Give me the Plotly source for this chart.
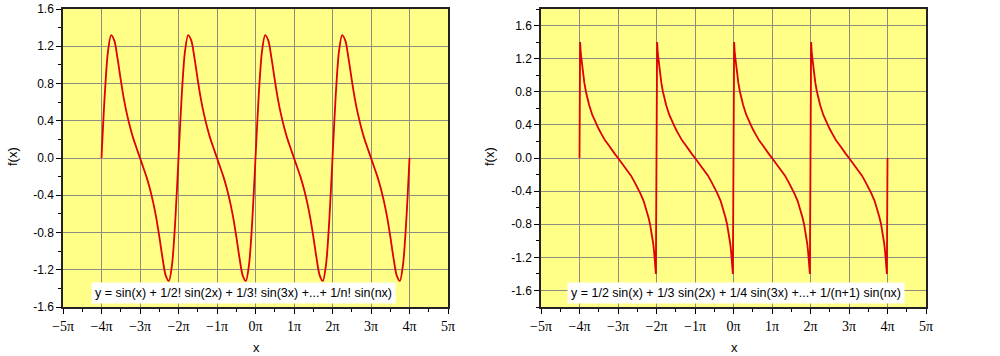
import numpy as np
import plotly.graph_objects as go

# ---------------- data (x in units of pi) ----------------
# Left: y = sum 1/n! sin(nx), sampled every pi/12 from -4pi to 4pi
left_x = np.linspace(-4, 4, 97)
left_y = [
    0.00, 0.67, 1.14, 1.32, 1.26, 1.07, 0.84, 0.63, 0.46, 0.32, 0.20, 0.10,
    0.00, -0.10, -0.20, -0.32, -0.46, -0.63, -0.84, -1.07, -1.26, -1.32, -1.14, -0.67,
    0.00, 0.67, 1.14, 1.32, 1.26, 1.07, 0.84, 0.63, 0.46, 0.32, 0.20, 0.10,
    0.00, -0.10, -0.20, -0.32, -0.46, -0.63, -0.84, -1.07, -1.26, -1.32, -1.14, -0.67,
    0.00, 0.67, 1.14, 1.32, 1.26, 1.07, 0.84, 0.63, 0.46, 0.32, 0.20, 0.10,
    0.00, -0.10, -0.20, -0.32, -0.46, -0.63, -0.84, -1.07, -1.26, -1.32, -1.14, -0.67,
    0.00, 0.67, 1.14, 1.32, 1.26, 1.07, 0.84, 0.63, 0.46, 0.32, 0.20, 0.10,
    0.00, -0.10, -0.20, -0.32, -0.46, -0.63, -0.84, -1.07, -1.26, -1.32, -1.14, -0.67,
    0.00,
]

# Right: y = sum 1/(n+1) sin(nx)
right_x = [
    -4.000, -3.984, -3.970, -3.958, -3.9375, -3.917, -3.875, -3.833, -3.792, -3.750,
    -3.667, -3.583, -3.500, -3.417, -3.333, -3.250, -3.167, -3.083, -3.000,
    -2.917, -2.833, -2.750, -2.667, -2.583, -2.500, -2.417, -2.333, -2.250,
    -2.208, -2.167, -2.125, -2.083, -2.0625, -2.042, -2.030, -2.016,
    -2.000, -1.984, -1.970, -1.958, -1.9375, -1.917, -1.875, -1.833, -1.792, -1.750,
    -1.667, -1.583, -1.500, -1.417, -1.333, -1.250, -1.167, -1.083, -1.000,
    -0.917, -0.833, -0.750, -0.667, -0.583, -0.500, -0.417, -0.333, -0.250,
    -0.208, -0.167, -0.125, -0.083, -0.0625, -0.042, -0.030, -0.016,
    0.000, 0.016, 0.030, 0.042, 0.0625, 0.083, 0.125, 0.167, 0.208, 0.250,
    0.333, 0.417, 0.500, 0.583, 0.667, 0.750, 0.833, 0.917, 1.000,
    1.083, 1.167, 1.250, 1.333, 1.417, 1.500, 1.583, 1.667, 1.750,
    1.792, 1.833, 1.875, 1.917, 1.9375, 1.958, 1.970, 1.984,
    2.000, 2.016, 2.030, 2.042, 2.0625, 2.083, 2.125, 2.167, 2.208, 2.250,
    2.333, 2.417, 2.500, 2.583, 2.667, 2.750, 2.833, 2.917, 3.000,
    3.083, 3.167, 3.250, 3.333, 3.417, 3.500, 3.583, 3.667, 3.750,
    3.792, 3.833, 3.875, 3.917, 3.9375, 3.958, 3.970, 3.984,
    4.000,
]
right_y = [
    0.00, 1.40, 1.29, 1.23, 1.13, 1.04, 0.91, 0.80, 0.72, 0.64,
    0.52, 0.43, 0.35, 0.28, 0.21, 0.16, 0.10, 0.05, 0.00,
    -0.05, -0.10, -0.16, -0.21, -0.28, -0.35, -0.43, -0.52, -0.64,
    -0.72, -0.80, -0.91, -1.04, -1.13, -1.23, -1.29, -1.40,
    0.00, 1.40, 1.29, 1.23, 1.13, 1.04, 0.91, 0.80, 0.72, 0.64,
    0.52, 0.43, 0.35, 0.28, 0.21, 0.16, 0.10, 0.05, 0.00,
    -0.05, -0.10, -0.16, -0.21, -0.28, -0.35, -0.43, -0.52, -0.64,
    -0.72, -0.80, -0.91, -1.04, -1.13, -1.23, -1.29, -1.40,
    0.00, 1.40, 1.29, 1.23, 1.13, 1.04, 0.91, 0.80, 0.72, 0.64,
    0.52, 0.43, 0.35, 0.28, 0.21, 0.16, 0.10, 0.05, 0.00,
    -0.05, -0.10, -0.16, -0.21, -0.28, -0.35, -0.43, -0.52, -0.64,
    -0.72, -0.80, -0.91, -1.04, -1.13, -1.23, -1.29, -1.40,
    0.00, 1.40, 1.29, 1.23, 1.13, 1.04, 0.91, 0.80, 0.72, 0.64,
    0.52, 0.43, 0.35, 0.28, 0.21, 0.16, 0.10, 0.05, 0.00,
    -0.05, -0.10, -0.16, -0.21, -0.28, -0.35, -0.43, -0.52, -0.64,
    -0.72, -0.80, -0.91, -1.04, -1.13, -1.23, -1.29, -1.40,
    0.00,
]

x_tickvals = [-5, -4, -3, -2, -1, 0, 1, 2, 3, 4, 5]
x_ticktext = ["\u22125\u03c0", "\u22124\u03c0", "\u22123\u03c0", "\u22122\u03c0", "\u22121\u03c0",
              "0\u03c0", "1\u03c0", "2\u03c0", "3\u03c0", "4\u03c0", "5\u03c0"]
left_yticks = [-1.6, -1.2, -0.8, -0.4, 0.0, 0.4, 0.8, 1.2, 1.6]
right_yticks = [-1.6, -1.2, -0.8, -0.4, 0.0, 0.4, 0.8, 1.2, 1.6]

left_label = "y = sin(x) + 1/2! sin(2x) + 1/3! sin(3x) +...+ 1/n! sin(nx)"
right_label = "y = 1/2 sin(x) + 1/3 sin(2x) + 1/4 sin(3x) +...+ 1/(n+1) sin(nx)"

# ---------------- figure ----------------
W, H = 1000, 356
RED = "#E00000"
YELLOW = "#FFFF88"
GRID = "#8E8E80"

fig = go.Figure()
fig.add_trace(go.Scatter(x=left_x, y=left_y, mode="lines", xaxis="x", yaxis="y",
                         line=dict(color=RED, width=1.8, shape="spline", smoothing=0.8),
                         showlegend=False, hoverinfo="skip"))
fig.add_trace(go.Scatter(x=right_x, y=right_y, mode="lines", xaxis="x2", yaxis="y2",
                         line=dict(color=RED, width=1.8),
                         showlegend=False, hoverinfo="skip"))

def px_x(p):
    return p / W

def px_y(p):
    return 1 - p / H

ydom = [px_y(307), px_y(9)]

xcommon = dict(
    range=[-5, 5], tickmode="array", tickvals=x_tickvals, ticktext=x_ticktext,
    tickfont=dict(family="Liberation Serif", size=14, color="#000"),
    ticks="outside", ticklen=5, tickwidth=1, tickcolor="#000",
    showline=True, linecolor="#222", linewidth=1.5, mirror=True,
    showgrid=True, gridcolor=GRID, gridwidth=1, zeroline=False,
    minor=dict(dtick=0.5, tick0=0, ticks="outside", ticklen=3, tickcolor="#000", showgrid=False),
    fixedrange=True, automargin=False,
)
ycommon = dict(
    tickmode="array",
    tickfont=dict(family="Liberation Sans", size=12, color="#000"),
    ticks="outside", ticklen=5, tickwidth=1, tickcolor="#000",
    showline=True, linecolor="#222", linewidth=1.5, mirror=True,
    showgrid=True, gridcolor=GRID, gridwidth=1, zeroline=False,
    minor=dict(dtick=0.2, tick0=0, ticks="outside", ticklen=3, tickcolor="#000", showgrid=False),
    fixedrange=True, automargin=False,
)

fig.update_layout(
    width=W, height=H, autosize=False,
    margin=dict(l=0, r=0, t=0, b=0, pad=0),
    paper_bgcolor="white", plot_bgcolor=YELLOW,
    xaxis=dict(domain=[px_x(63), px_x(448)], anchor="y", **xcommon),
    yaxis=dict(domain=ydom, anchor="x", range=[-1.6, 1.6], tickvals=left_yticks,
               ticktext=[f"{v:.1f}" for v in left_yticks], **ycommon),
    xaxis2=dict(domain=[px_x(541), px_x(926)], anchor="y2", **xcommon),
    yaxis2=dict(domain=ydom, anchor="x2", range=[-1.8, 1.8], tickvals=right_yticks,
                ticktext=[f"{v:.1f}" for v in right_yticks], **ycommon),
)

annots = [
    dict(text="f(x)", x=px_x(12), y=px_y(157), textangle=-90),
    dict(text="f(x)", x=px_x(489), y=px_y(157), textangle=-90),
    dict(text="x", x=px_x(256), y=px_y(347)),
    dict(text="x", x=px_x(734), y=px_y(347)),
]
for a in annots:
    fig.add_annotation(xref="paper", yref="paper", showarrow=False,
                       xanchor="center", yanchor="middle",
                       font=dict(family="Liberation Sans", size=13, color="#000"), **a)

fig.add_annotation(xref="paper", yref="paper", x=px_x(243), y=px_y(293), showarrow=False,
                   xanchor="center", yanchor="middle", text=left_label,
                   font=dict(family="Liberation Sans", size=12.5, color="#000"),
                   bgcolor="white", borderpad=3)
fig.add_annotation(xref="paper", yref="paper", x=px_x(736), y=px_y(293), showarrow=False,
                   xanchor="center", yanchor="middle", text=right_label,
                   font=dict(family="Liberation Sans", size=12.5, color="#000"),
                   bgcolor="white", borderpad=3)

fig.write_html("out.html", config={"displayModeBar": False},
               post_script="document.body.style.margin='0';document.body.style.overflow='hidden';")
